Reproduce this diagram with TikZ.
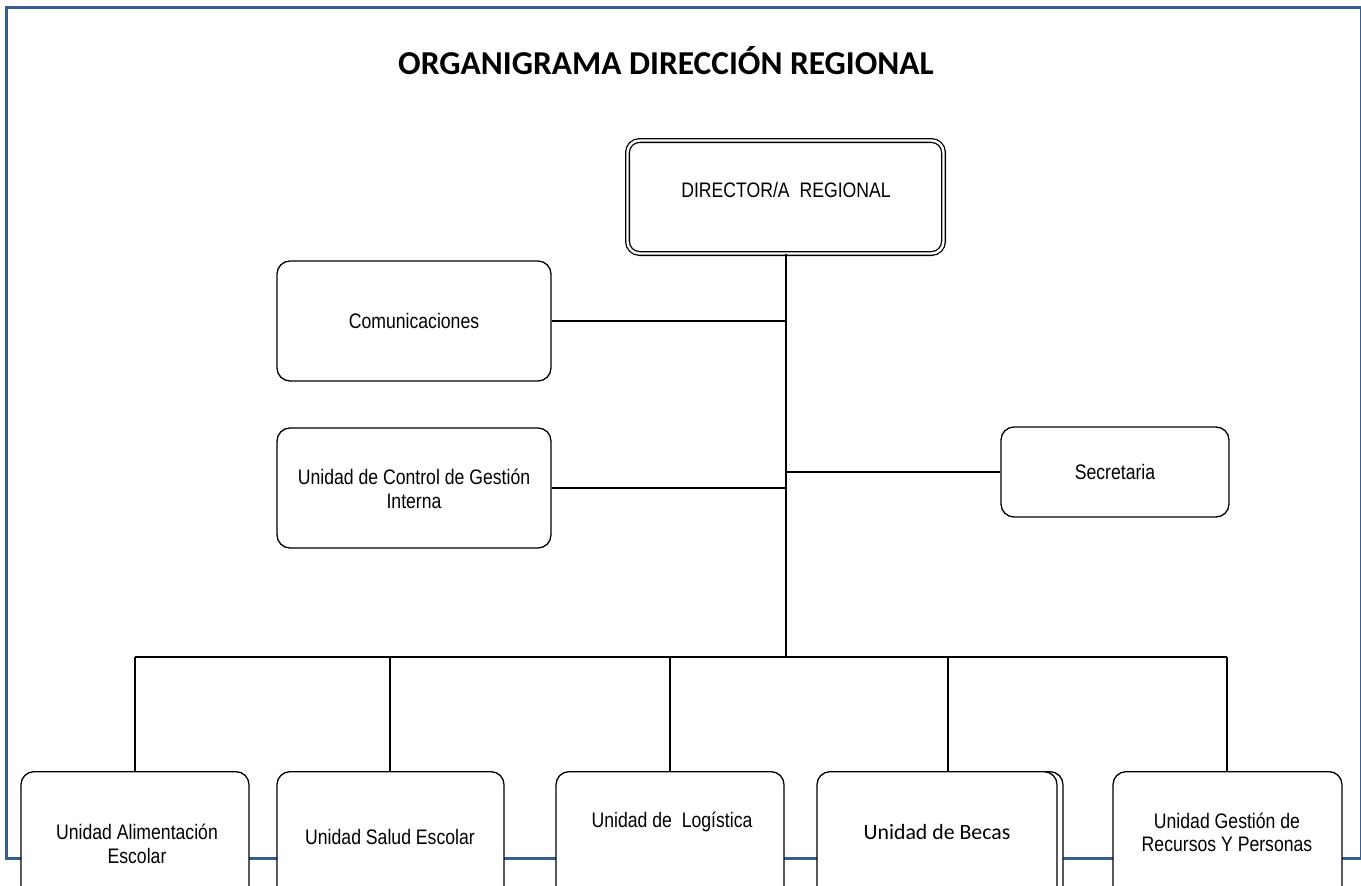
\documentclass[tikz,border=0pt]{standalone}
\usepackage{fontspec}
\setmainfont{Liberation Sans}
\newfontfamily\arialn[FakeStretch=0.84]{Liberation Sans}
\newfontfamily\calibri{Carlito}
\definecolor{framecol}{RGB}{54,95,145}
\begin{document}
\begin{tikzpicture}[x=1pt,y=-1pt,
  box/.style={draw=black, line width=1.3pt, rounded corners=13pt, fill=white, inner sep=0pt},
  ubox/.style={box, anchor=north, minimum height=160pt},
  txt/.style={font=\arialn\fontsize{21}{24}\selectfont, align=center, inner sep=0pt, text=black},
  link/.style={draw=black, line width=1.3pt},
  trunk/.style={draw=black, line width=2pt},
  frame/.style={draw=framecol, line width=3.2pt}]
\useasboundingbox (0,0) rectangle (1361,886);
\clip (0,0) rectangle (1361,886);
\fill[white] (0,0) rectangle (1361,886);
% page frame
\draw[frame] (6.5,7.5) rectangle (1361.5,858.3);
% title
\node[font=\calibri\bfseries\fontsize{33.4}{38}\selectfont, inner sep=0pt] (title) at (666,61) {ORGANIGRAMA DIRECCIÓN REGIONAL};
% director
\node[box, rounded corners=12pt, line width=1.3pt, double=white, double distance=2.4pt,
      minimum width=316pt, minimum height=113pt] (dir) at (785.5,197) {};
\node[txt] (dirt) at (786,190) {DIRECTOR/A~ REGIONAL};
% staff boxes
\node[box, minimum width=274pt, minimum height=120pt] (com) at (414,321) {};
\node[txt] (comt) at (414,321) {Comunicaciones};
\node[box, minimum width=274pt, minimum height=120pt] (ctl) at (414,488) {};
\node[txt] (ctlt) at (414,489) {Unidad de Control de Gestión\\Interna};
\node[box, minimum width=228pt, minimum height=90pt] (sec) at (1115,472) {};
\node[txt] (sect) at (1115,472) {Secretaria};
% bottom units
\node[ubox, minimum width=228pt] (b1) at (135,771) {};
\node[txt, font=\arialn\fontsize{21}{24}\selectfont] (b1t) at (137,844) {Unidad Alimentación\\Escolar};
\node[ubox, minimum width=227pt] (b2) at (390.5,771) {};
\node[txt] (b2t) at (390,837) {Unidad Salud Escolar};
\node[ubox, minimum width=228pt] (b3) at (670,771) {};
\node[txt] (b3t) at (672,822) {Unidad de~ Logística};
\node[ubox, minimum width=240pt] (b4back) at (943,771) {};
\node[ubox, minimum width=240pt] (b4) at (937,771) {};
\node[font=\calibri\fontsize{21.8}{24}\selectfont, inner sep=0pt] (b4t) at (937,832) {Unidad de Becas};
\node[ubox, minimum width=229pt] (b5) at (1227.5,771) {};
\node[txt, font=\arialn\fontsize{21}{23}\selectfont] (b5t) at (1227,832) {Unidad Gestión de\\Recursos Y Personas};
% bus coordinates
\coordinate (busL) at (135,657);
\coordinate (busR) at (1227,657);
\coordinate (d1) at (135,657);
\coordinate (d2) at (390,657);
\coordinate (d3) at (670,657);
\coordinate (d4) at (948,657);
\coordinate (d5) at (1227,657);
% connectors
\draw[trunk] (dir.south) -- (dir.south |- busL);
\draw[link] (busL) -- (busR);
\draw[link] (com.east) -- (com.east -| dir.south);
\draw[link] (ctl.east) -- (ctl.east -| dir.south);
\draw[link] (sec.west) -- (sec.west -| dir.south);
\draw[link] (d1) -- (d1 |- b1.north);
\draw[link] (d2) -- (d2 |- b2.north);
\draw[link] (d3) -- (d3 |- b3.north);
\draw[link] (d4) -- (d4 |- b4.north);
\draw[link] (d5) -- (d5 |- b5.north);
\end{tikzpicture}
\end{document}
